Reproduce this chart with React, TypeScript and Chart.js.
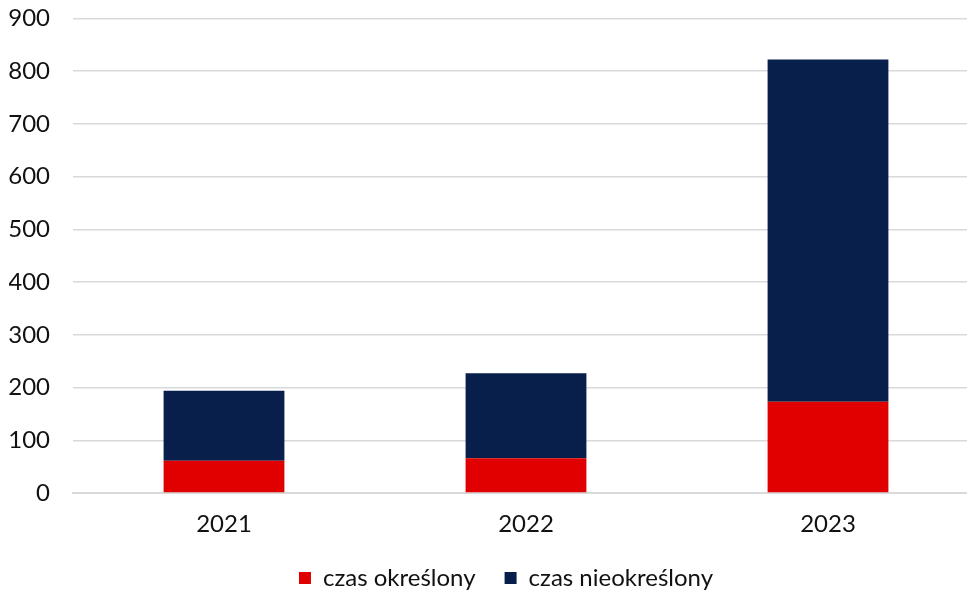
import React, { useEffect, useRef } from "react";
import { Chart, registerables } from "chart.js";

Chart.register(...registerables);

const categories = ["2021", "2022", "2023"];
const czasOkreslony = [61, 66, 173];
const czasNieokreslony = [133, 161, 649];
const seriesLabels = ["czas określony", "czas nieokreślony"];
const yMax = 900;
const yStep = 100;

const legendShift = {
  id: "legendShift",
  afterLayout(chart: any) {
    const lg = chart.legend;
    if (lg) {
      lg.left += 12;
      lg.right += 12;
    }
  },
};

export default function App() {
  const ref = useRef<HTMLCanvasElement | null>(null);
  useEffect(() => {
    if (!ref.current) return;
    const chart = new Chart(ref.current, {
      type: "bar",
      data: {
        labels: categories,
        datasets: [
          {
            label: seriesLabels[0],
            data: czasOkreslony,
            backgroundColor: "#E00000",
            barPercentage: 0.4,
            categoryPercentage: 1,
          },
          {
            label: seriesLabels[1],
            data: czasNieokreslony,
            backgroundColor: "#071F4A",
            barPercentage: 0.4,
            categoryPercentage: 1,
          },
        ],
      },
      plugins: [legendShift],
      options: {
        animation: false,
        responsive: false,
        devicePixelRatio: 1,
        layout: { padding: { left: 9, top: 18.5, right: 0, bottom: -8 } },
        plugins: {
          tooltip: { enabled: false },
          legend: {
            position: "bottom",
            labels: {
              font: { family: "Lato", size: 24, lineHeight: 1 },
              color: "#111",
              boxWidth: 12,
              boxHeight: 12,
              padding: 29,
            },
          },
        },
        scales: {
          x: {
            stacked: true,
            grid: { display: false, drawTicks: false },
            border: { display: true, color: "#d9d9d9", width: 2 },
            ticks: {
              font: { family: "Lato", size: 24 },
              color: "#111",
              padding: 17,
            },
            afterFit: (scale: any) => {
              scale.height = 44;
            },
          },
          y: {
            stacked: true,
            min: 0,
            max: yMax,
            grid: { color: "#d9d9d9", lineWidth: 1.5, drawTicks: false },
            border: { display: false },
            ticks: {
              stepSize: yStep,
              font: { family: "Lato", size: 24 },
              color: "#111",
              padding: 23,
            },
            afterFit: (scale: any) => {
              scale.width = 64;
              scale.paddingTop = 0;
              scale.paddingBottom = 0;
            },
          },
        },
      },
    });
    return () => chart.destroy();
  }, []);
  return (
    <div
      style={{
        position: "fixed",
        left: 0,
        top: 0,
        width: 967,
        height: 592,
        overflow: "hidden",
        background: "#fff",
      }}
    >
      <canvas ref={ref} width={979} height={592} style={{ display: "block" }} />
    </div>
  );
}
